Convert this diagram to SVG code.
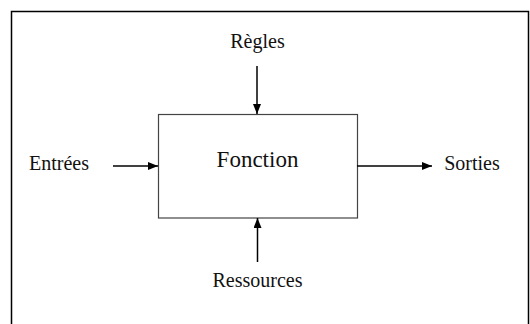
<svg xmlns="http://www.w3.org/2000/svg" width="530" height="324" viewBox="0 0 530 324">
<style>
.t{font-family:"Liberation Serif","Times New Roman",serif;font-size:20px;fill:#111;text-anchor:middle}
.c{stroke:#000;stroke-width:1.5;fill:none}
</style>
<defs>
<marker id="ah" viewBox="0 0 10 8" refX="10" refY="4" markerWidth="10" markerHeight="8" markerUnits="userSpaceOnUse" orient="auto">
<path d="M0,0 L10,4 L0,8 Z" fill="#000"/>
</marker>
</defs>
<rect width="530" height="324" fill="#fff"/>
<path d="M11.5,324 V11.5 H528.5 V324" fill="none" stroke="#000" stroke-width="1.5"/>
<g id="fonction">
<rect x="158.5" y="114.5" width="199" height="103.5" fill="#fff" stroke="#444" stroke-width="1.2"/>
<text class="t" x="257.5" y="167" style="font-size:23px">Fonction</text>
</g>
<g id="regles"><text class="t" x="257.5" y="48">Règles</text></g>
<g id="entrees"><text class="t" x="59" y="170">Entrées</text></g>
<g id="sorties"><text class="t" x="472" y="170">Sorties</text></g>
<g id="ressources"><text class="t" x="257.5" y="287">Ressources</text></g>
<g id="connectors">
<line class="c" x1="257" y1="66" x2="257" y2="114" marker-end="url(#ah)"/>
<line class="c" x1="113" y1="166" x2="158" y2="166" marker-end="url(#ah)"/>
<line class="c" x1="357" y1="166" x2="432" y2="166" marker-end="url(#ah)"/>
<line class="c" x1="257.5" y1="262" x2="257.5" y2="218" marker-end="url(#ah)"/>
</g>
</svg>
